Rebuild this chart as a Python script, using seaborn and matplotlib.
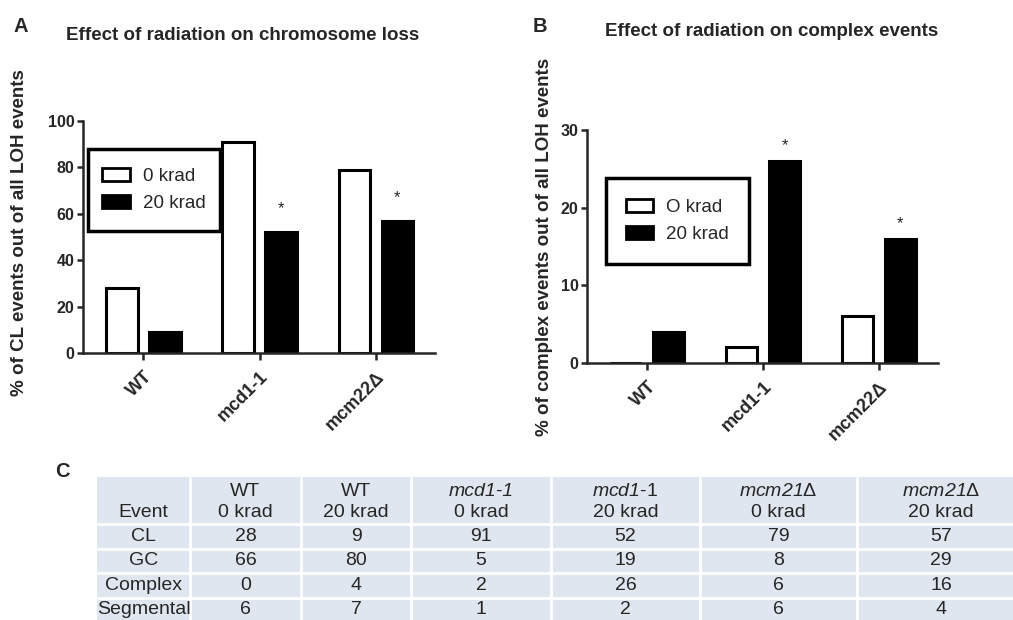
import numpy as np
import pandas as pd
import matplotlib
matplotlib.use("Agg")
import matplotlib.pyplot as plt
from matplotlib.patches import Patch, Rectangle
import seaborn as sns

genotypes = ["WT", "mcd1-1", "mcm22Δ"]
doses_a = ["0 krad", "20 krad"]
doses_b = ["O krad", "20 krad"]
significant = [False, True, True]   # asterisk over the 20 krad bar

event_names = ["CL", "GC", "Complex", "Segmental"]
cl_pct = [28, 9, 91, 52, 79, 57]
gc_pct = [66, 80, 5, 19, 8, 29]
complex_pct = [0, 4, 2, 26, 6, 16]
segmental_pct = [6, 7, 1, 2, 6, 4]

header_top = ["", "WT", "WT", "mcd1-1", "$mcd1$-1", "$mcm21$Δ", "$mcm21$Δ"]
header_bottom = ["Event", "0 krad", "20 krad", "0 krad", "20 krad", "0 krad", "20 krad"]

sns.set_style("ticks")
plt.rcParams["font.family"] = ["Liberation Sans", "DejaVu Sans"]
# math parts of the table header are the italic gene names (digits too)
plt.rcParams["mathtext.fontset"] = "custom"
plt.rcParams["mathtext.it"] = "Liberation Sans:italic"
plt.rcParams["mathtext.rm"] = "Liberation Sans:italic"

fig = plt.figure(figsize=(10.13, 6.2), dpi=100)
ax_a = fig.add_axes([0.0819, 0.4306, 0.3475, 0.3742])
ax_b = fig.add_axes([0.5795, 0.4145, 0.3465, 0.3758])


def bar_panel(ax, values, doses, ymax, ystep, ylabel, star_off, box, label_xy):
    df = pd.DataFrame({"genotype": np.repeat(genotypes, 2),
                       "dose": doses * len(genotypes),
                       "pct": values})
    sns.barplot(data=df, x="genotype", y="pct", hue="dose", hue_order=doses,
                palette=["white", "black"], saturation=1, edgecolor="black",
                linewidth=2.2, width=0.74, gap=0.27, legend=False, ax=ax)
    sns.despine(ax=ax)
    for s in ["left", "bottom"]:
        ax.spines[s].set_linewidth(1.8)
    ax.set_xlim(-0.52, 2.51)
    ax.set_ylim(0, ymax)
    ax.set_yticks(np.arange(0, ymax + 1, ystep))
    ax.tick_params(axis="y", length=4, width=1.8, labelsize=11.5, pad=2)
    ax.tick_params(axis="x", length=5, width=1.8, labelsize=13, pad=6)
    for t in ax.get_yticklabels():
        t.set_fontweight("bold")
    ax.set_xticks(range(len(genotypes)))
    ax.set_xticklabels(genotypes, rotation=45, ha="right", rotation_mode="anchor",
                       fontweight="bold")
    ax.set_xlabel("")
    ax.set_ylabel(ylabel, fontsize=13.5, fontweight="bold")
    ax.yaxis.set_label_coords(*label_xy)

    for i, p in enumerate(ax.containers[1]):
        if significant[i]:
            ax.annotate("*", xy=(p.get_x() + p.get_width() / 2, p.get_height()),
                        xytext=(0, star_off), textcoords="offset points",
                        ha="center", va="center", fontsize=12)

    # legend with a heavy square frame, taller than matplotlib's padding allows
    x0, y0, x1, y1 = box
    ax.add_patch(Rectangle((x0, y0), x1 - x0, y1 - y0, transform=ax.transAxes,
                           facecolor="white", edgecolor="black", linewidth=2.5,
                           clip_on=False, zorder=5))
    handles = [Patch(facecolor=c, edgecolor="black", linewidth=2) for c in ["white", "black"]]
    leg = ax.legend(handles, doses, loc="center",
                    bbox_to_anchor=((x0 + x1) / 2, (y0 + y1) / 2),
                    fontsize=13.5, frameon=False,
                    handlelength=1.45, handleheight=0.7, handletextpad=0.7,
                    labelspacing=0.55, borderpad=0.2)
    leg.set_zorder(6)


bar_panel(ax_a, cl_pct, doses_a, 100, 20, "% of CL events out of all LOH events",
          17, (0.0142, 0.526, 0.389, 0.879), (-0.156, 0.52))
bar_panel(ax_b, complex_pct, doses_b, 30, 10, "% of complex events out of all LOH events",
          11, (0.054, 0.425, 0.4615, 0.794), (-0.097, 0.50))

fig.text(243 / 1013, 1 - 35 / 620, "Effect of radiation on chromosome loss",
         fontsize=13.5, fontweight="bold", ha="center", va="center")
fig.text(772 / 1013, 1 - 31 / 620, "Effect of radiation on complex events",
         fontsize=13.5, fontweight="bold", ha="center", va="center")

fig.text(13 / 1013, 1 - 32 / 620, "A", fontsize=14.5, fontweight="bold", va="baseline")
fig.text(533 / 1013, 1 - 32 / 620, "B", fontsize=14.5, fontweight="bold", va="baseline")
fig.text(55 / 1013, 1 - 477 / 620, "C", fontsize=14.5, fontweight="bold", va="baseline")

# table C
col_edges = [0, 93, 204, 314, 454, 603, 760, 928]
row_edges = [0, 47, 72, 96, 121, 145]
ax_t = fig.add_axes([97 / 1013, -0.003, 928 / 1013, 0.234])
ax_t.set_xlim(0, 928)
ax_t.set_ylim(145, 0)
ax_t.set_facecolor("#e0e6f0")
for s in ax_t.spines.values():
    s.set_visible(False)
ax_t.set_xticks([])
ax_t.set_yticks([])
ax_t.vlines(col_edges[1:-1], 0, 145, color="white", linewidth=2)
ax_t.hlines(row_edges[1:-1], 0, 928, color="white", linewidth=2)

fs = 14
centres = [(col_edges[i] + col_edges[i + 1]) / 2 for i in range(len(col_edges) - 1)]
for i, c in enumerate(centres):
    if header_top[i]:
        style = "italic" if header_top[i] == "mcd1-1" else "normal"
        ax_t.text(c, 15, header_top[i], ha="center", va="center", fontsize=fs, style=style)
    ax_t.text(c, 36, header_bottom[i], ha="center", va="center", fontsize=fs)

rows = [cl_pct, gc_pct, complex_pct, segmental_pct]
for r, (name, vals) in enumerate(zip(event_names, rows)):
    y = (row_edges[r + 1] + row_edges[r + 2]) / 2
    ax_t.text(centres[0], y, name, ha="center", va="center", fontsize=fs)
    for j, v in enumerate(vals):
        ax_t.text(centres[j + 1], y, str(v), ha="center", va="center", fontsize=fs)

fig.savefig("out.png", dpi=100)
